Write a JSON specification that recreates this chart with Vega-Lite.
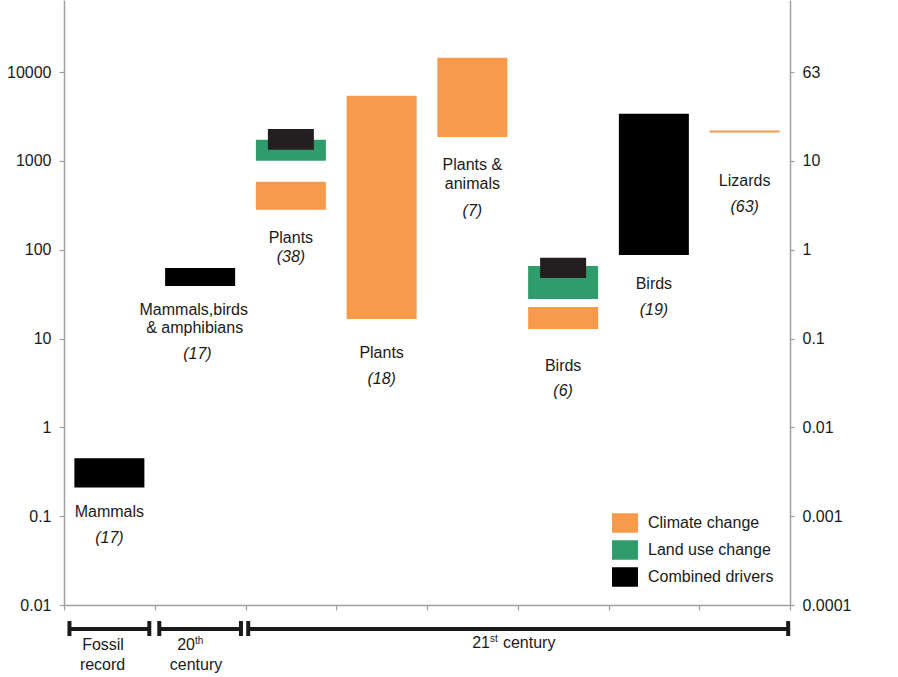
{
  "$schema": "https://vega.github.io/schema/vega-lite/v6.json",
  "width": 726,
  "height": 605,
  "autosize": "none",
  "padding": {"left": 64, "top": 0, "right": 108, "bottom": 72},
  "background": "white",
  "config": {
    "view": {"stroke": null},
    "font": "Liberation Sans",
    "axis": {
      "domainColor": "#a0a0a0",
      "domainWidth": 1.5,
      "tickColor": "#a0a0a0",
      "tickWidth": 1.2,
      "tickSize": 5,
      "grid": false,
      "labelFont": "Liberation Sans",
      "labelFontSize": 16,
      "labelColor": "#1a1a1a",
      "labelPadding": 8
    },
    "legend": {
      "orient": "none",
      "legendX": 548,
      "legendY": 510,
      "padding": 0,
      "symbolType": "M-1,-0.75H1V0.75H-1Z",
      "symbolSize": 676,
      "symbolStrokeWidth": 0,
      "symbolOpacity": 1,
      "labelFont": "Liberation Sans",
      "labelFontSize": 16,
      "labelColor": "#1a1a1a",
      "labelOffset": 10,
      "labelLimit": 300,
      "rowPadding": 4
    }
  },
  "datasets": {
    "bars": [
      {"col": 1, "driver": "Combined drivers", "low": 0.21, "high": 0.45},
      {"col": 2, "driver": "Combined drivers", "low": 39, "high": 62},
      {"col": 3, "driver": "Climate change", "low": 281, "high": 580},
      {"col": 3, "driver": "Land use change", "low": 1000, "high": 1723},
      {"col": 4, "driver": "Climate change", "low": 16.6, "high": 5400},
      {"col": 5, "driver": "Climate change", "low": 1860, "high": 14450},
      {"col": 6, "driver": "Climate change", "low": 12.8, "high": 22.7},
      {"col": 6, "driver": "Land use change", "low": 27.9, "high": 65.7},
      {"col": 7, "driver": "Combined drivers", "low": 87, "high": 3380},
      {"col": 8, "driver": "Climate change", "low": 2080, "high": 2200}
    ],
    "overlay": [
      {"col": 3, "driver": "Combined drivers", "low": 1330, "high": 2290},
      {"col": 6, "driver": "Combined drivers", "low": 48, "high": 81}
    ],
    "names": [
      {"col": 1, "line": "Mammals", "y": 0.1115},
      {"col": 1.93, "line": "Mammals,birds", "y": 20.9},
      {"col": 1.94, "line": "& amphibians", "y": 13.1},
      {"col": 3, "line": "Plants", "y": 135},
      {"col": 4, "line": "Plants", "y": 6.87},
      {"col": 5, "line": "Plants &", "y": 898},
      {"col": 5, "line": "animals", "y": 548},
      {"col": 6, "line": "Birds", "y": 4.91},
      {"col": 7, "line": "Birds", "y": 41.1},
      {"col": 8, "line": "Lizards", "y": 593}
    ],
    "counts": [
      {"col": 1, "n": "(17)", "y": 0.0567},
      {"col": 1.97, "n": "(17)", "y": 6.69},
      {"col": 3, "n": "(38)", "y": 82.7},
      {"col": 4, "n": "(18)", "y": 3.5},
      {"col": 5, "n": "(7)", "y": 272},
      {"col": 6, "n": "(6)", "y": 2.57},
      {"col": 7, "n": "(19)", "y": 20.9},
      {"col": 8, "n": "(63)", "y": 302}
    ],
    "periods": [
      {"period": "Fossil record", "start": 0.56, "end": 1.44},
      {"period": "20th century", "start": 1.55, "end": 2.45},
      {"period": "21st century", "start": 2.53, "end": 8.48}
    ],
    "bottomText": [
      {"role": "center", "t": "Fossil", "x": 0.93, "y": 0.00355},
      {"role": "center", "t": "record", "x": 0.925, "y": 0.00211},
      {"role": "right", "t": "20", "x": 1.943, "y": 0.00355},
      {"role": "sup", "t": "th", "x": 1.943, "y": 0.00395},
      {"role": "center", "t": "century", "x": 1.955, "y": 0.00211},
      {"role": "right", "t": "21", "x": 5.194, "y": 0.00374},
      {"role": "sup", "t": "st", "x": 5.194, "y": 0.00416},
      {"role": "left", "t": "century", "x": 5.337, "y": 0.00374}
    ]
  },
  "layer": [
    {
      "data": {"name": "bars"},
      "mark": {"type": "bar", "width": 70},
      "encoding": {
        "x": {
          "field": "col", "type": "quantitative", "title": null,
          "scale": {"domain": [0.5, 8.5], "nice": false, "zero": false, "padding": 0},
          "axis": {"values": [0.5, 1.5, 2.5, 3.5, 4.5, 5.5, 6.5, 7.5, 8.5], "labels": false, "title": null, "orient": "bottom"}
        },
        "y": {
          "field": "low", "type": "quantitative", "title": null,
          "scale": {"type": "log", "domain": [0.01, 64660], "nice": false},
          "axis": {"values": [0.01, 0.1, 1, 10, 100, 1000, 10000], "format": "~g", "title": null, "orient": "left"}
        },
        "y2": {"field": "high"},
        "color": {
          "field": "driver", "type": "nominal", "title": null,
          "scale": {"domain": ["Climate change", "Land use change", "Combined drivers"], "range": ["#F79A4B", "#2E9C6B", "#000000"]}
        }
      }
    },
    {
      "data": {"name": "overlay"},
      "mark": {"type": "bar", "width": 46, "color": "#231F20"},
      "encoding": {
        "x": {"field": "col", "type": "quantitative", "title": null},
        "y": {"field": "low", "type": "quantitative", "title": null, "axis": null},
        "y2": {"field": "high"}
      }
    },
    {
      "data": {"name": "names"},
      "mark": {"type": "text", "fontSize": 16, "color": "#1a1a1a", "baseline": "middle", "align": "center"},
      "encoding": {
        "x": {"field": "col", "type": "quantitative", "title": null},
        "y": {"field": "y", "type": "quantitative", "title": null, "axis": null},
        "text": {"field": "line"}
      }
    },
    {
      "data": {"name": "counts"},
      "mark": {"type": "text", "fontSize": 16, "fontStyle": "italic", "color": "#1a1a1a", "baseline": "middle", "align": "center"},
      "encoding": {
        "x": {"field": "col", "type": "quantitative", "title": null},
        "y": {"field": "y", "type": "quantitative", "title": null, "axis": null},
        "text": {"field": "n"}
      }
    },
    {
      "data": {"name": "periods"},
      "mark": {"type": "rule", "strokeWidth": 4, "color": "#1a1a1a"},
      "encoding": {
        "x": {"field": "start", "type": "quantitative", "title": null},
        "x2": {"field": "end"},
        "y": {
          "datum": 0.00537, "type": "quantitative", "title": null,
          "axis": {
            "orient": "right", "title": null, "tickSize": 4,
            "values": [0.01, 0.1, 1, 10, 100, 1000, 10000],
            "labelExpr": "datum.value > 5000 ? '63' : format(datum.value / 100, '~g')"
          }
        }
      }
    },
    {
      "data": {"name": "periods"},
      "transform": [{"fold": ["start", "end"], "as": ["edge", "pos"]}],
      "mark": {"type": "rule", "strokeWidth": 4, "color": "#1a1a1a"},
      "encoding": {
        "x": {"field": "pos", "type": "quantitative", "title": null},
        "y": {"datum": 0.0066, "type": "quantitative", "title": null, "axis": null},
        "y2": {"datum": 0.00448}
      }
    },
    {
      "data": {"name": "bottomText"},
      "transform": [{"filter": "datum.role == 'center'"}],
      "mark": {"type": "text", "fontSize": 16, "color": "#1a1a1a", "baseline": "middle", "align": "center"},
      "encoding": {
        "x": {"field": "x", "type": "quantitative", "title": null},
        "y": {"field": "y", "type": "quantitative", "title": null, "axis": null},
        "text": {"field": "t"}
      }
    },
    {
      "data": {"name": "bottomText"},
      "transform": [{"filter": "datum.role == 'right'"}],
      "mark": {"type": "text", "fontSize": 16, "color": "#1a1a1a", "baseline": "middle", "align": "right"},
      "encoding": {
        "x": {"field": "x", "type": "quantitative", "title": null},
        "y": {"field": "y", "type": "quantitative", "title": null, "axis": null},
        "text": {"field": "t"}
      }
    },
    {
      "data": {"name": "bottomText"},
      "transform": [{"filter": "datum.role == 'left'"}],
      "mark": {"type": "text", "fontSize": 16, "color": "#1a1a1a", "baseline": "middle", "align": "left"},
      "encoding": {
        "x": {"field": "x", "type": "quantitative", "title": null},
        "y": {"field": "y", "type": "quantitative", "title": null, "axis": null},
        "text": {"field": "t"}
      }
    },
    {
      "data": {"name": "bottomText"},
      "transform": [{"filter": "datum.role == 'sup'"}],
      "mark": {"type": "text", "fontSize": 10, "color": "#1a1a1a", "baseline": "middle", "align": "left"},
      "encoding": {
        "x": {"field": "x", "type": "quantitative", "title": null},
        "y": {"field": "y", "type": "quantitative", "title": null, "axis": null},
        "text": {"field": "t"}
      }
    }
  ],
  "resolve": {"axis": {"y": "independent"}}
}
